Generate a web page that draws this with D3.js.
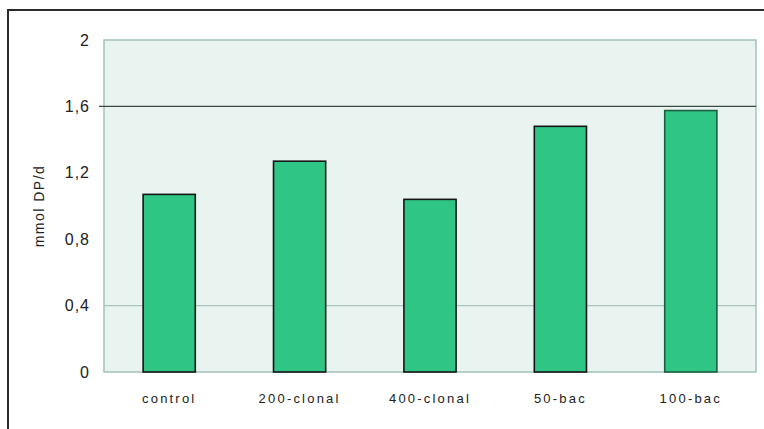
<!DOCTYPE html>
<html>
<head>
<meta charset="utf-8">
<script src="https://cdn.jsdelivr.net/npm/d3@7"></script>
<style>
  body { margin: 0; background: #fff; }
  svg { display: block; font-family: "Liberation Sans", Arial, sans-serif; }
</style>
</head>
<body>
<svg id="chart" width="764" height="429"></svg>
<script>
// chart values
const categories = ['control', '200-clonal', '400-clonal', '50-bac', '100-bac'];
const values = [1.07, 1.27, 1.04, 1.48, 1.575];
const yTicks = [0, 0.4, 0.8, 1.2, 1.6, 2];
const yTickLabels = ['0', '0,4', '0,8', '1,2', '1,6', '2'];
const yTitle = 'mmol DP/d';

const svg = d3.select('#chart');

const plotLeft = 104, plotRight = 756, plotTop = 40, plotBottom = 372;

// outer frame, cut off on right/bottom like the original
svg.append('rect')
    .attr('x', 8).attr('y', 10)
    .attr('width', 900).attr('height', 600)
    .attr('fill', 'none')
    .attr('stroke', '#2b2b2b')
    .attr('stroke-width', 2);

const xScale = d3.scaleBand()
    .domain(categories)
    .range([plotLeft, plotRight])
    .paddingInner(0.6)
    .paddingOuter(0.3);

const yScale = d3.scaleLinear()
    .domain([0, 2])
    .range([plotBottom, plotTop]);

// plot background
svg.append('rect')
    .attr('x', plotLeft).attr('y', yScale(2))
    .attr('width', plotRight - plotLeft).attr('height', yScale(0) - yScale(2))
    .attr('fill', '#e9f3f0')
    .attr('stroke', '#a3c2bb')
    .attr('stroke-width', 1.5);

// grid lines (only 0,4 and 1,6 show in the original)
svg.append('line')
    .attr('x1', plotLeft).attr('x2', plotRight)
    .attr('y1', yScale(0.4)).attr('y2', yScale(0.4))
    .attr('stroke', '#a9c5be').attr('stroke-width', 1.2);

svg.append('line')
    .attr('x1', plotLeft - 5).attr('x2', plotRight)
    .attr('y1', yScale(1.6)).attr('y2', yScale(1.6))
    .attr('stroke', '#3c4a46').attr('stroke-width', 1.3);

// bars
svg.selectAll('.bar')
    .data(values)
    .enter()
    .append('rect')
    .attr('class', 'bar')
    .attr('x', (d, i) => xScale(categories[i]))
    .attr('y', d => yScale(d))
    .attr('width', xScale.bandwidth())
    .attr('height', d => yScale(0) - yScale(d))
    .attr('fill', '#2ec585')
    .attr('stroke', (d, i) => i === categories.length - 1 ? '#1d5e40' : '#151515')
    .attr('stroke-width', 1.6);

// y axis labels
const yAxis = d3.axisLeft(yScale)
    .tickValues(yTicks)
    .tickFormat((d, i) => yTickLabels[i])
    .tickSize(0)
    .tickPadding(14);

const yg = svg.append('g')
    .attr('transform', `translate(${plotLeft}, 0)`)
    .call(yAxis);
yg.select('.domain').remove();
yg.selectAll('text')
    .attr('fill', '#222')
    .style('font-size', '16px')
    .style('letter-spacing', '1px');

// x axis labels
const xAxis = d3.axisBottom(xScale).tickSize(0).tickPadding(22);
const xg = svg.append('g')
    .attr('transform', `translate(0, ${plotBottom})`)
    .call(xAxis);
xg.select('.domain').remove();
xg.selectAll('text')
    .attr('fill', '#222')
    .style('font-size', '13px')
    .style('letter-spacing', '2.2px');

// y title
svg.append('text')
    .attr('transform', `translate(44, ${(plotTop + plotBottom) / 2}) rotate(-90)`)
    .attr('text-anchor', 'middle')
    .attr('fill', '#222')
    .style('font-size', '14px')
    .style('letter-spacing', '1.5px')
    .text(yTitle);
</script>
</body>
</html>
